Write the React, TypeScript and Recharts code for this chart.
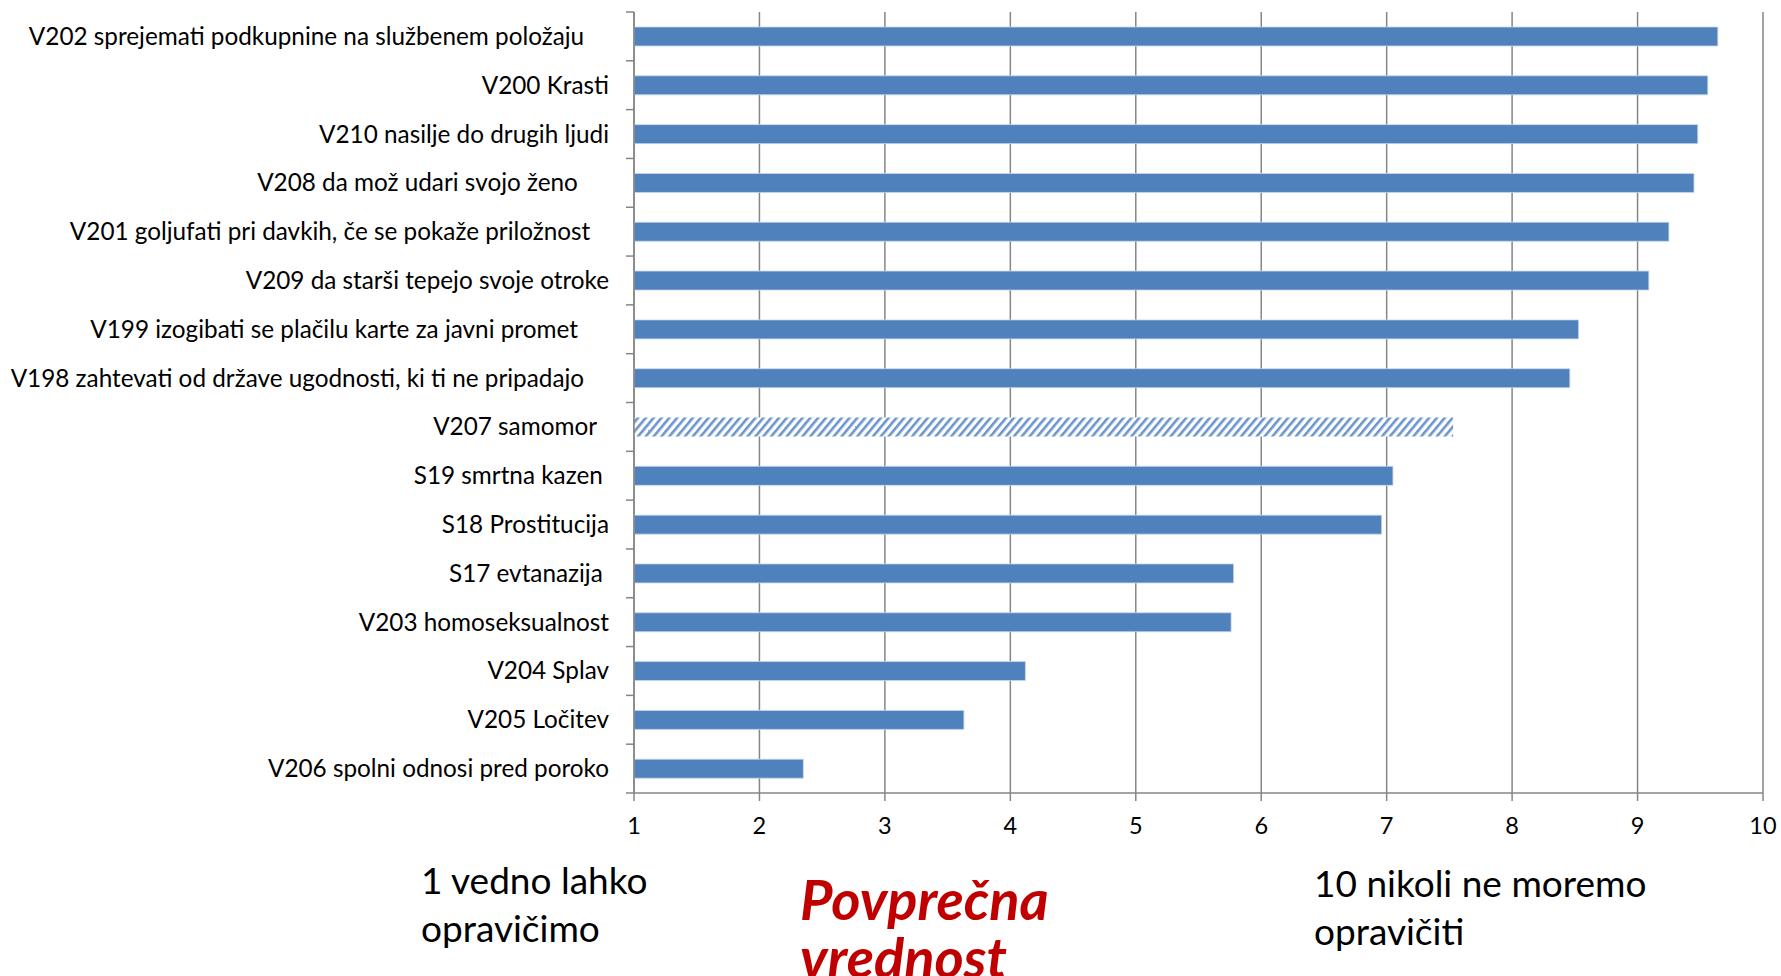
import React from 'react';
import { BarChart, Bar, XAxis, YAxis, CartesianGrid, Cell } from 'recharts';

const categories: string[] = [
  'V202 sprejemati podkupnine na službenem položaju    ',
  'V200 Krasti',
  'V210 nasilje do drugih ljudi',
  'V208 da mož udari svojo ženo     ',
  'V201 goljufati pri davkih, če se pokaže priložnost   ',
  'V209 da starši tepejo svoje otroke',
  'V199 izogibati se plačilu karte za javni promet     ',
  'V198 zahtevati od države ugodnosti, ki ti ne pripadajo    ',
  'V207 samomor  ',
  'S19 smrtna kazen ',
  'S18 Prostitucija',
  'S17 evtanazija ',
  'V203 homoseksualnost',
  'V204 Splav',
  'V205 Ločitev',
  'V206 spolni odnosi pred poroko',
];
const meanValues: number[] = [9.64, 9.56, 9.48, 9.45, 9.25, 9.09, 8.53, 8.46, 7.53, 7.05, 6.96, 5.78, 5.76, 4.12, 3.63, 2.35];
const hatchedCategories: string[] = ['V207 samomor'];
const xTicks: number[] = [1, 2, 3, 4, 5, 6, 7, 8, 9, 10];
const scaleMin = 1;
const scaleMax = 10;
const lowEndLabel: string[] = ['1 vedno lahko', 'opravičimo'];
const highEndLabel: string[] = ['10 nikoli ne moremo', 'opravičiti'];
const titleLines: string[] = ['Povprečna', 'vrednost'];

const data = categories.map((c, i) => ({ name: c, range: [scaleMin, meanValues[i]] }));

const FONT = 'Lato, "Open Sans", sans-serif';
const BAR = '#4F81BD';
const GRID = '#868686';

const CHART_W = 1781;
const CHART_H = 860;
const MARGIN = { top: 12, right: 18, left: 0, bottom: 0 };
const X_AXIS_H = 67;
const Y_AXIS_W = 634;
const LABEL_GAP = 25;
const plotH = CHART_H - MARGIN.top - MARGIN.bottom - X_AXIS_H;
const band = plotH / categories.length;

const CategoryTick = (props: any) => {
  const { x, y, payload, index } = props;
  const axisX = x + LABEL_GAP;
  return (
    <g>
      <line x1={axisX - 8} x2={axisX} y1={y - band / 2} y2={y - band / 2} stroke={GRID} strokeWidth={1.5} />
      {index === categories.length - 1 && (
        <line x1={axisX - 8} x2={axisX} y1={y + band / 2} y2={y + band / 2} stroke={GRID} strokeWidth={1.5} />
      )}
      <text
        x={x}
        y={y}
        dy="0.35em"
        textAnchor="end"
        fill="#000"
        fontFamily={FONT}
        fontSize={24.3}
        style={{ whiteSpace: 'pre' }}
      >
        {payload.value}
      </text>
    </g>
  );
};

export default function App() {
  return (
    <div style={{ position: 'absolute', left: 0, top: 0, width: 1781, height: 976, overflow: 'hidden', background: '#fff' }}>
      <svg width={0} height={0} style={{ position: 'absolute' }}>
        <defs>
          <pattern id="hatch" patternUnits="userSpaceOnUse" width={6} height={6} patternTransform="rotate(40)">
            <rect x={0} y={0} width={6} height={6} fill="#fff" />
            <rect x={0} y={0} width={2.6} height={6} fill="#6C95CB" />
          </pattern>
        </defs>
      </svg>
      <BarChart
        width={CHART_W}
        height={CHART_H}
        data={data}
        layout="vertical"
        margin={MARGIN}
      >
        <CartesianGrid horizontal={false} vertical stroke={GRID} strokeWidth={1.5} />
        <XAxis
          type="number"
          domain={[scaleMin, scaleMax]}
          ticks={xTicks}
          interval={0}
          height={X_AXIS_H}
          axisLine={{ stroke: GRID, strokeWidth: 1.5 }}
          tickLine={{ stroke: GRID, strokeWidth: 1.5 }}
          tickSize={8}
          tickMargin={16}
          tick={{ fill: '#000', fontFamily: FONT, fontSize: 23.5 }}
        />
        <YAxis
          type="category"
          dataKey="name"
          width={Y_AXIS_W}
          interval={0}
          tickSize={0}
          tickMargin={LABEL_GAP}
          tickLine={false}
          axisLine={{ stroke: GRID, strokeWidth: 1.5 }}
          tick={<CategoryTick />}
        />
        <Bar dataKey="range" barSize={19} isAnimationActive={false} stroke="#C9D8EC" strokeWidth={0.8}>
          {data.map((d, i) => (
            <Cell
              key={i}
              fill={hatchedCategories.includes(d.name.trim()) ? 'url(#hatch)' : BAR}
              stroke={hatchedCategories.includes(d.name.trim()) ? 'none' : '#C9D8EC'}
            />
          ))}
        </Bar>
      </BarChart>
      <div style={{ position: 'absolute', left: 421, top: 856, fontFamily: FONT, fontSize: 37, lineHeight: '48px', color: '#000' }}>
        {lowEndLabel.map((t, i) => <div key={i}>{t}</div>)}
      </div>
      <div style={{ position: 'absolute', left: 1314, top: 859, fontFamily: FONT, fontSize: 37, lineHeight: '48px', color: '#000' }}>
        {highEndLabel.map((t, i) => <div key={i}>{t}</div>)}
      </div>
      <div style={{ position: 'absolute', left: 800, top: 870, fontFamily: FONT, fontSize: 56, fontWeight: 700, fontStyle: 'italic', lineHeight: '58px', color: '#C00000' }}>
        {titleLines.map((t, i) => <div key={i}>{t}</div>)}
      </div>
    </div>
  );
}
